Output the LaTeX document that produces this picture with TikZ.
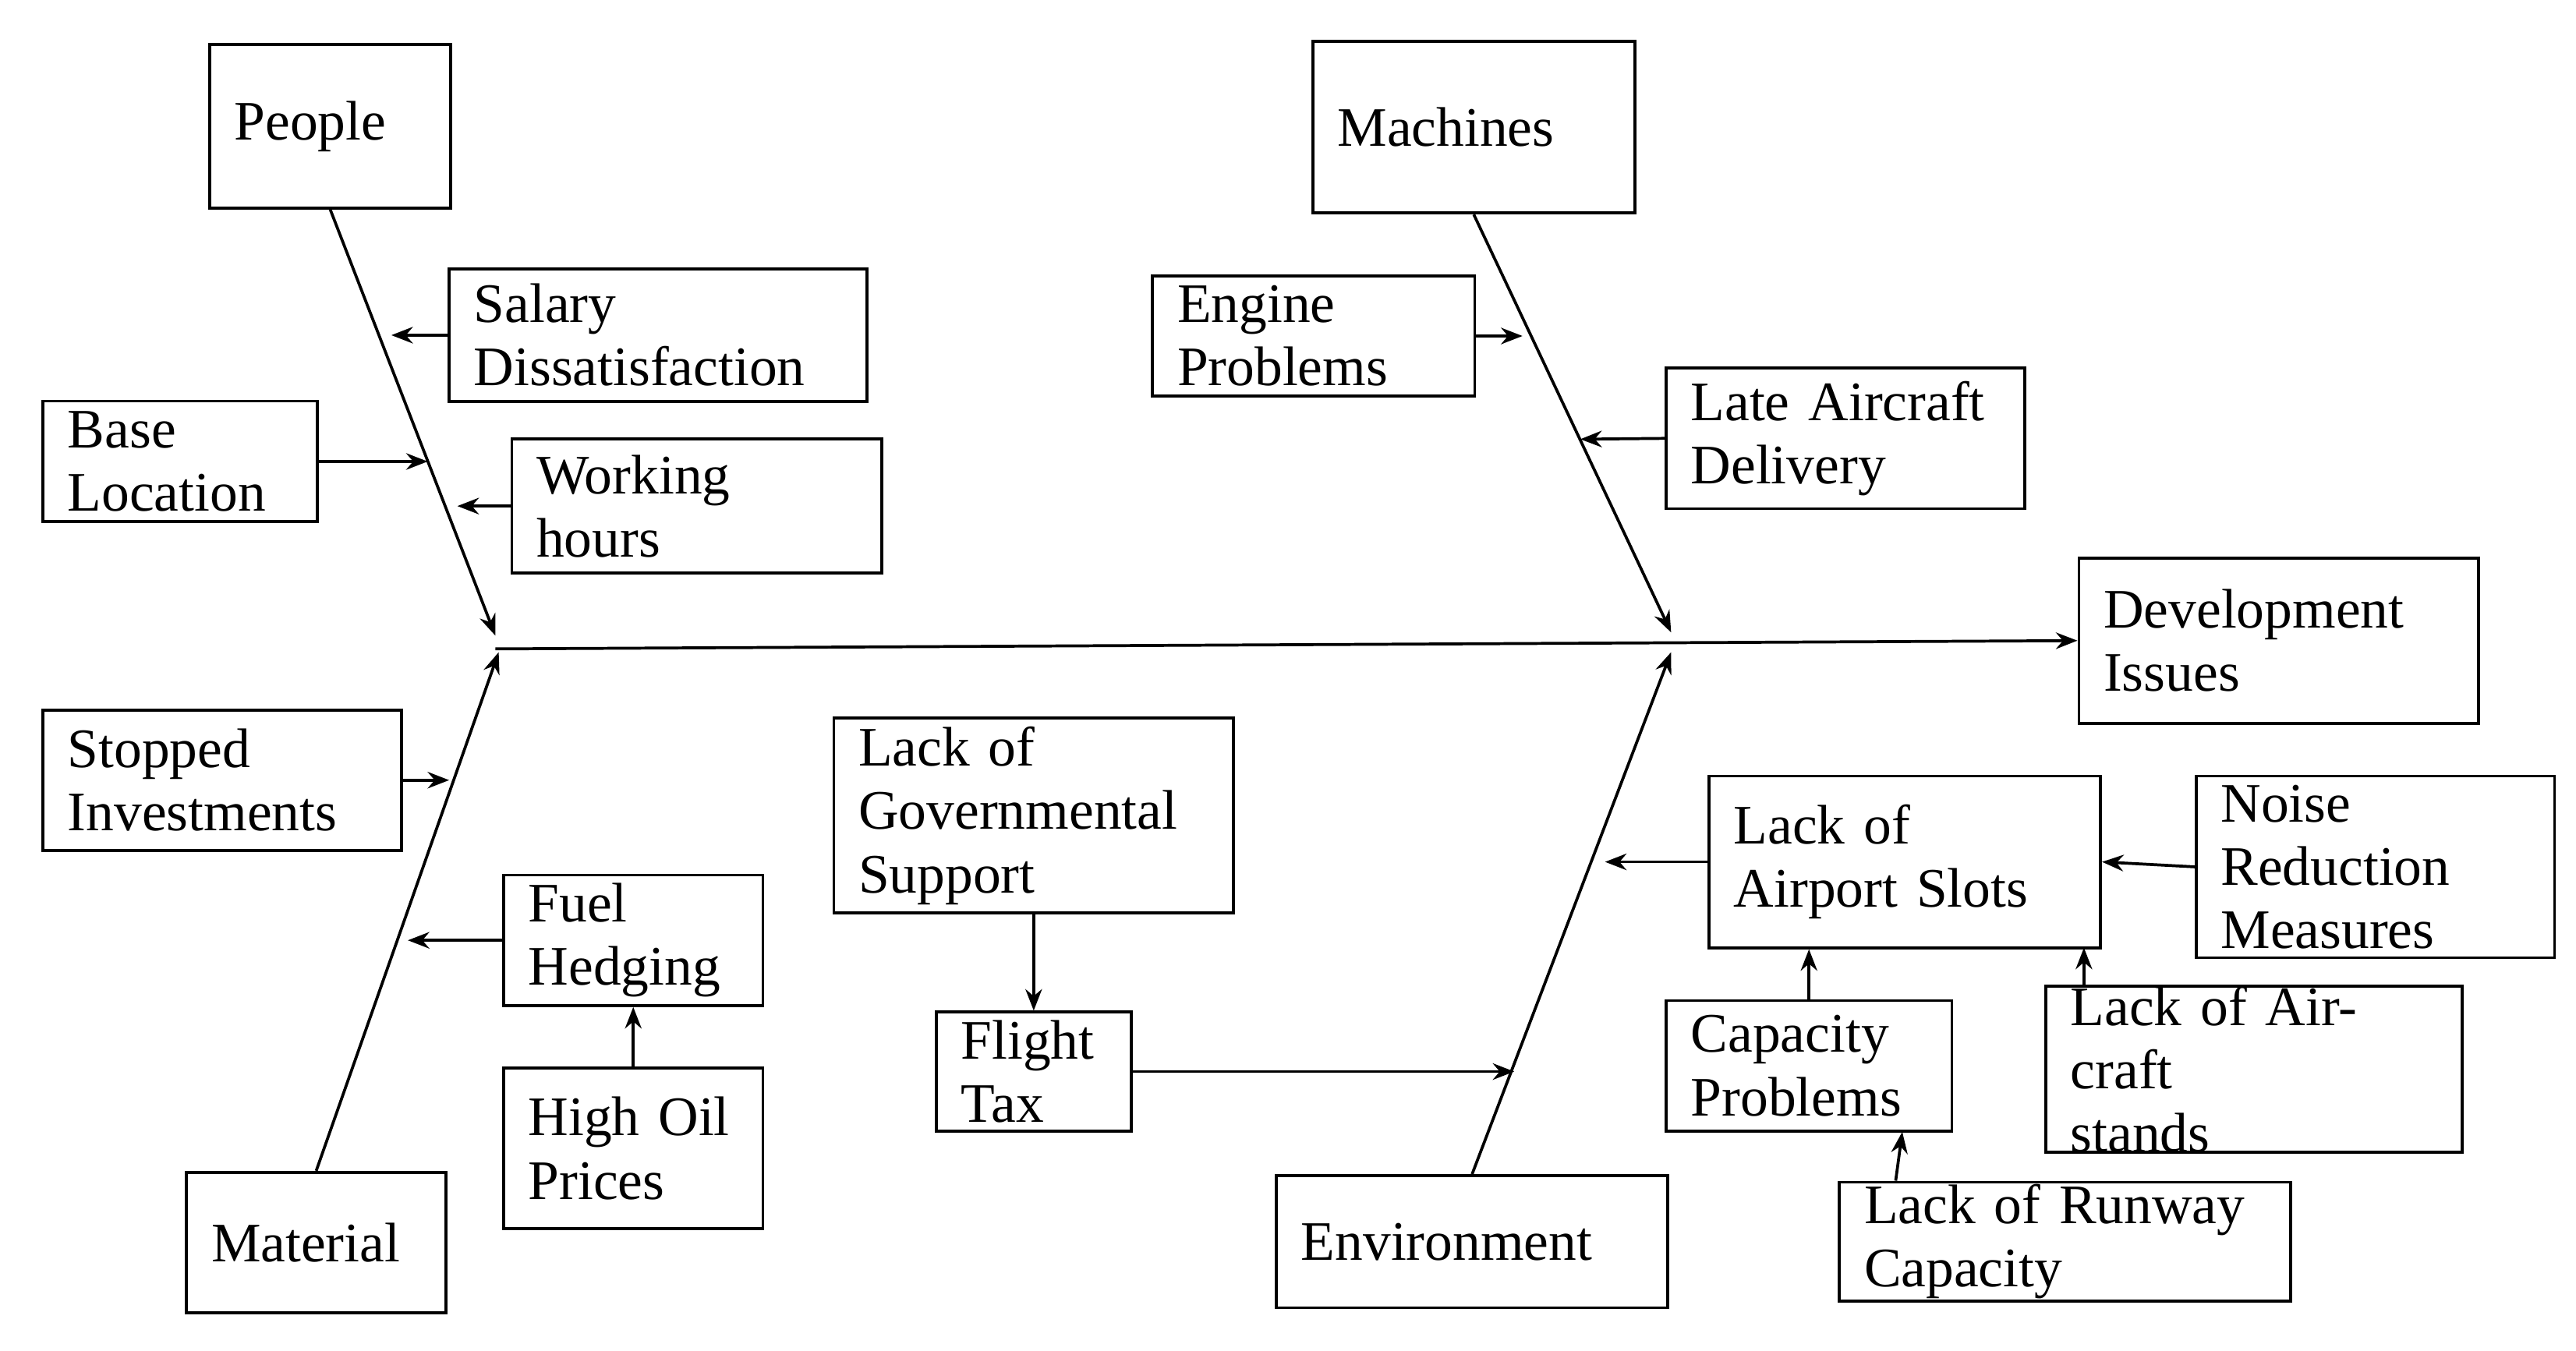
\documentclass[tikz,border=0pt]{standalone}
\usepackage{fontspec}
\setmainfont{Liberation Serif}
\usetikzlibrary{arrows.meta}
\begin{document}
\begin{tikzpicture}[x=0.01cm,y=-0.01cm,line width=0.5pt,
  every node/.style={font=\fontsize{9.6}{10.9}\selectfont},
  box/.style={draw, inner xsep=1.5mm, inner ysep=0pt, align=left},
  arr/.style={-{Stealth[length=1.3mm,width=1mm]}}]
\useasboundingbox (0,0) rectangle (1560,818);
% categories
\node[box, text width=11.6mm, minimum height=9.9mm] (people) at (200,76.5) {People};
\node[box, text width=16.5mm, minimum height=10.4mm] (machines) at (892.5,77) {Machines};
\node[box, text width=12.7mm, minimum height=8.5mm] (material) at (191.5,752.5) {Material};
\node[box, text width=20.7mm, minimum height=8mm] (environment) at (891.5,752) {Environment};
\node[box, text width=21.2mm, minimum height=10mm] (dev) at (1380,388) {Development\\Issues};
% causes
\node[box, text width=22.3mm, minimum height=8mm] (salary) at (398.5,203) {Salary\\Dissatisfaction};
\node[box, text width=13.6mm, minimum height=7.3mm] (base) at (109,279.5) {Base\\Location};
\node[box, text width=19.4mm, minimum height=8.1mm] (working) at (422,306.5) {Working\\hours};
\node[box, text width=16.5mm, minimum height=7.3mm] (engine) at (795.5,203.5) {Engine\\Problems};
\node[box, text width=18.7mm, minimum height=8.5mm] (late) at (1117.5,265.5) {Late Aircraft\\Delivery};
\node[box, text width=18.7mm, minimum height=8.5mm] (stopped) at (134.5,472.5) {Stopped\\Investments};
\node[box, text width=12.7mm, minimum height=7.9mm] (fuel) at (383.5,569.5) {Fuel\\Hedging};
\node[box, text width=12.7mm, minimum height=9.7mm] (oil) at (383.5,695.5) {High Oil\\Prices};
\node[box, text width=21.2mm, minimum height=11.8mm] (gov) at (626,494) {Lack of\\Governmental\\Support};
\node[box, text width=8.8mm, minimum height=7.2mm] (tax) at (626,649) {Flight\\Tax};
\node[box, text width=20.7mm, minimum height=10.4mm] (slots) at (1153.5,522) {Lack of\\Airport Slots};
\node[box, text width=18.7mm, minimum height=11mm] (noise) at (1438.5,525) {Noise\\Reduction\\Measures};
\node[box, text width=14.3mm, minimum height=7.9mm] (capacity) at (1095.5,645.5) {Capacity\\Problems};
\node[box, text width=22.2mm, minimum height=7.1mm] (stands) at (1365,647.5) {Lack of Aircraft\\stands};
\node[box, text width=24.3mm, minimum height=7.2mm] (runway) at (1250.5,752) {Lack of Runway\\Capacity};
% spine and bones
\coordinate (tail) at (300,393);
\coordinate (pj) at (300,385);
\coordinate (mj) at (302,395);
\coordinate (cj) at (1012,383);
\coordinate (ej) at (1012,395);
\draw[arr] (tail) -- (dev.west);
\draw[arr] (people.south) -- (pj);
\draw[arr] (material.north) -- (mj);
\draw[arr] (machines.south) -- (cj);
\draw[arr] (environment.north) -- (ej);
% cause arrows
\coordinate (salaryend) at (237,203);
\coordinate (baseend) at (259,279.5);
\coordinate (workingend) at (277,306.5);
\coordinate (engineend) at (922,203.5);
\coordinate (lateend) at (957,266);
\coordinate (stoppedend) at (272,472.5);
\coordinate (fuelend) at (247,569.5);
\coordinate (taxend) at (917,649);
\coordinate (slotsend) at (972,522);
\draw[arr] (salary.west) -- (salaryend);
\draw[arr] (base.east) -- (baseend);
\draw[arr] (working.west) -- (workingend);
\draw[arr] (engine.east) -- (engineend);
\draw[arr] (late.west) -- (lateend);
\draw[arr] (stopped.east) -- (stoppedend);
\draw[arr] (fuel.west) -- (fuelend);
\draw[arr] (oil.north) -- (fuel.south);
\draw[arr] (gov.south) -- (tax.north);
\draw[arr] (tax.east) -- (taxend);
\draw[arr] (slots.west) -- (slotsend);
\draw[arr] (noise.west) -- (slots.east);
\draw[arr] (capacity.north) -- (capacity.north |- slots.south);
\draw[arr] (stands.north -| 1262,0) -- (1262,574);
\draw[arr] (runway.north -| 1148,0) -- (1152,685.5);
\end{tikzpicture}
\end{document}
